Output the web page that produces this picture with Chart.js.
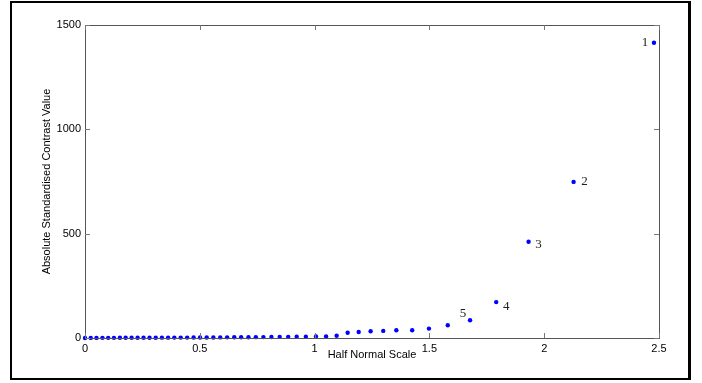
<!DOCTYPE html>
<html>
<head>
<meta charset="utf-8">
<script src="https://cdn.jsdelivr.net/npm/chart.js@4.4.1/dist/chart.umd.min.js"></script>
<style>
    html, body { margin: 0; padding: 0; background: #fff; }
    #wrap { position: relative; width: 702px; height: 383px; }
    #frame { position: absolute; left: 10px; top: 1px; width: 676px; height: 375px;
             border: 2px solid #000; border-right-width: 3px; pointer-events: none; }
</style>
</head>
<body>
<div id="wrap">
    <canvas id="myChart" width="702" height="383"></canvas>
    <div id="frame"></div>
</div>
<script>
// half normal scores (x) and absolute standardised contrasts (y)
const halfNormal = [0, 0.025, 0.050, 0.076, 0.101, 0.126, 0.152, 0.177, 0.203, 0.229,
    0.255, 0.281, 0.308, 0.335, 0.362, 0.389, 0.417, 0.445, 0.473, 0.501,
    0.530, 0.559, 0.589, 0.619, 0.650, 0.680, 0.712, 0.744, 0.777, 0.812,
    0.848, 0.885, 0.922, 0.962, 1.006, 1.050, 1.096, 1.144, 1.192, 1.244,
    1.299, 1.356, 1.425, 1.498, 1.580, 1.677, 1.791, 1.932, 2.128, 2.478];
const contrastValues = [0.3, 0.4, 0.5, 0.6, 0.7, 0.8, 0.9, 1.0, 1.1, 1.2,
    1.3, 1.4, 1.5, 1.6, 1.7, 1.8, 1.9, 2.0, 2.1, 2.3,
    2.5, 2.7, 2.9, 3.1, 3.3, 3.5, 3.8, 4.1, 4.4, 4.8,
    5.2, 5.6, 6.0, 6.5, 7, 7, 11, 25, 29, 32,
    34, 37, 37, 45, 61, 85, 172, 461, 748, 1415];
const rankLabels = ['1', '2', '3', '4', '5'];
const xTicks = [0, 0.5, 1, 1.5, 2, 2.5];
const yTicks = [0, 500, 1000, 1500];

const points = halfNormal.map((x, i) => ({x: x, y: contrastValues[i]}));

// indices of the biggest contrasts, largest first
const ranked = contrastValues.map((v, i) => i).sort((a, b) => contrastValues[b] - contrastValues[a]);

const boxAndLabels = {
    id: 'boxAndLabels',
    afterDatasetsDraw(chart) {
        const ctx = chart.ctx;
        const area = chart.chartArea;
        const xs = chart.scales.x;
        const ys = chart.scales.y;

        ctx.save();
        ctx.strokeStyle = '#555';
        ctx.lineWidth = 1;
        ctx.strokeRect(area.left + 0.5, area.top + 0.5, area.right - area.left, area.bottom - area.top);

        // inward ticks on all four sides
        ctx.strokeStyle = '#777';
        ctx.beginPath();
        xTicks.forEach(v => {
            const px = Math.round(xs.getPixelForValue(v)) + 0.5;
            ctx.moveTo(px, area.bottom);
            ctx.lineTo(px, area.bottom - 5);
            ctx.moveTo(px, area.top);
            ctx.lineTo(px, area.top + 5);
        });
        yTicks.forEach(v => {
            const py = Math.round(ys.getPixelForValue(v)) + 0.5;
            ctx.moveTo(area.left, py);
            ctx.lineTo(area.left + 5, py);
            ctx.moveTo(area.right, py);
            ctx.lineTo(area.right - 5, py);
        });
        ctx.stroke();

        // rank numbers next to the largest effects
        const offsets = [[-9, 0], [11, 0], [10, 3], [10, 4], [-7, -7]];
        const meta = chart.getDatasetMeta(0);
        ctx.fillStyle = '#222';
        ctx.font = '13px "Liberation Serif", "DejaVu Serif", serif';
        ctx.textAlign = 'center';
        ctx.textBaseline = 'middle';
        rankLabels.forEach((txt, k) => {
            const el = meta.data[ranked[k]];
            ctx.fillText(txt, el.x + offsets[k][0], el.y + offsets[k][1]);
        });
        ctx.restore();
    }
};

const tickFont = {family: '"Liberation Sans", Arial, sans-serif', size: 11};

new Chart(document.getElementById('myChart').getContext('2d'), {
    type: 'scatter',
    data: {
        datasets: [{
            data: points,
            backgroundColor: '#0000ff',
            borderColor: '#0000ff',
            pointRadius: 2.2,
            pointBorderWidth: 0
        }]
    },
    options: {
        responsive: false,
        animation: false,
        clip: false,
        layout: {padding: {left: 0, top: 25, right: 43, bottom: 0}},
        plugins: {
            legend: {display: false},
            tooltip: {enabled: false}
        },
        scales: {
            x: {
                type: 'linear',
                min: 0,
                max: 2.5,
                afterFit: scale => { scale.height = 45; },
                afterBuildTicks: scale => { scale.ticks = xTicks.map(v => ({value: v})); },
                grid: {display: false, drawTicks: false},
                border: {display: false},
                ticks: {
                    color: '#000',
                    font: tickFont,
                    padding: 4,
                    maxRotation: 0,
                    callback: v => String(v)
                },
                title: {
                    display: true,
                    text: 'Half Normal Scale',
                    color: '#000',
                    font: tickFont,
                    padding: {top: 0, bottom: 21}
                }
            },
            y: {
                type: 'linear',
                min: 0,
                max: 1500,
                afterFit: scale => { scale.width = 85; },
                afterBuildTicks: scale => { scale.ticks = yTicks.map(v => ({value: v})); },
                grid: {display: false, drawTicks: false},
                border: {display: false},
                ticks: {
                    color: '#000',
                    font: tickFont,
                    padding: 4,
                    callback: v => String(v)
                },
                title: {
                    display: true,
                    text: 'Absolute Standardised Contrast Value',
                    color: '#000',
                    font: tickFont,
                    padding: {top: 40, bottom: 0}
                }
            }
        }
    },
    plugins: [boxAndLabels]
});
</script>
</body>
</html>
